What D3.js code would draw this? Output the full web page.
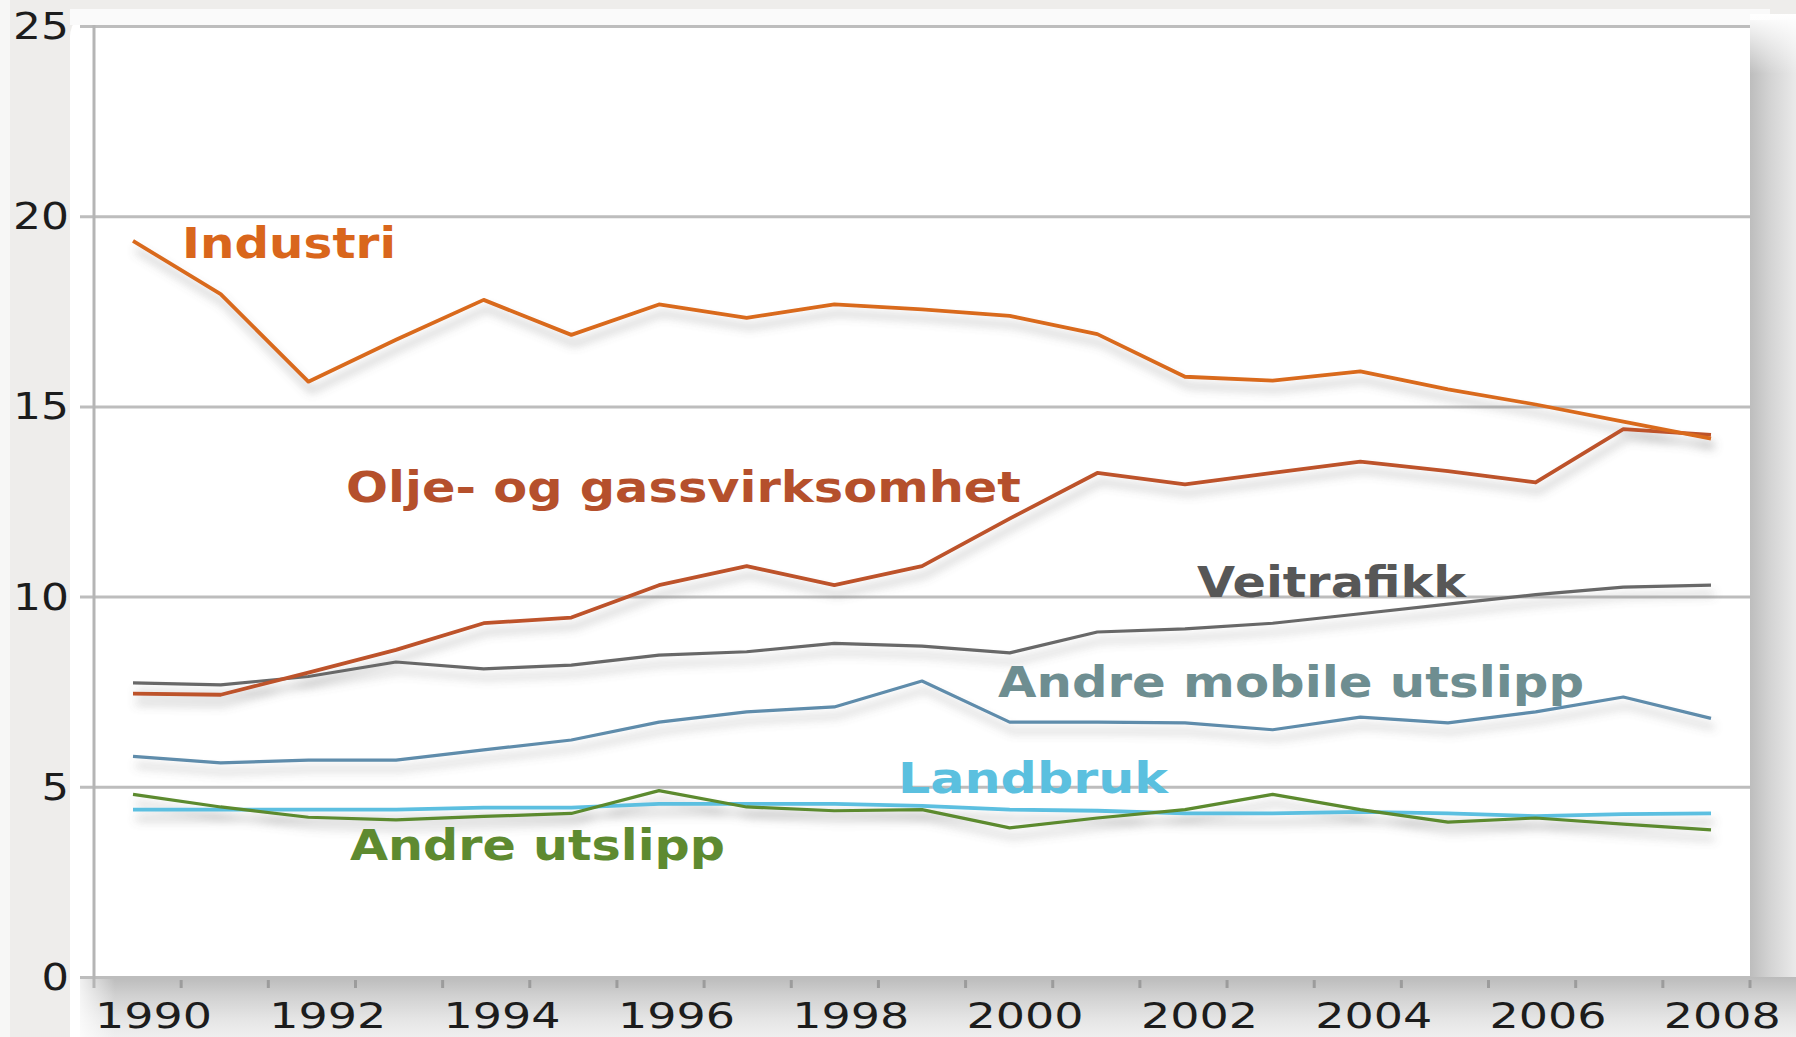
<!DOCTYPE html>
<html>
<head>
<meta charset="utf-8">
<script src="https://cdn.jsdelivr.net/npm/d3@7"></script>
<style>
  html, body { margin: 0; padding: 0; background: #eeedeb; }
  svg { display: block; }
  text { font-family: "DejaVu Sans", Verdana, sans-serif; }
</style>
</head>
<body>
<svg id="chart" width="1796" height="1037"></svg>
<script>
// ---------- data ----------
const years = [1990,1991,1992,1993,1994,1995,1996,1997,1998,1999,2000,2001,2002,2003,2004,2005,2006,2007,2008];
const yearLabels = [1990,1992,1994,1996,1998,2000,2002,2004,2006,2008];
const yTicks = [0,5,10,15,20,25];

const industri      = [19.35,17.95,15.65,16.75,17.8,16.88,17.68,17.33,17.68,17.55,17.38,16.9,15.78,15.68,15.92,15.45,15.05,14.6,14.15];
const oljeGass      = [7.45,7.42,8.0,8.6,9.3,9.45,10.3,10.8,10.3,10.8,12.05,13.25,12.95,13.25,13.55,13.3,13.0,14.4,14.25];
const veitrafikk    = [7.73,7.68,7.9,8.28,8.1,8.2,8.46,8.55,8.77,8.7,8.52,9.07,9.15,9.3,9.55,9.8,10.05,10.25,10.3];
const andreMobile   = [5.8,5.63,5.7,5.7,5.97,6.23,6.7,6.97,7.1,7.78,6.7,6.7,6.68,6.5,6.83,6.68,6.97,7.36,6.8];
const landbruk      = [4.4,4.4,4.4,4.4,4.45,4.45,4.55,4.55,4.55,4.5,4.4,4.37,4.3,4.3,4.34,4.3,4.23,4.28,4.3];
const andreUtslipp  = [4.8,4.47,4.2,4.13,4.22,4.3,4.9,4.47,4.37,4.4,3.92,4.18,4.4,4.8,4.4,4.07,4.18,4.02,3.87];

const seriesNames = ["Landbruk","Andre utslipp","Andre mobile utslipp","Veitrafikk","Olje- og gassvirksomhet","Industri"];
const seriesValues = [landbruk, andreUtslipp, andreMobile, veitrafikk, oljeGass, industri];

// ---------- styles ----------
const styles = {
  "Industri":                {line:"#d96a1e", text:"#d9661c", w:3.8, lx:182, ly:258, len:214},
  "Olje- og gassvirksomhet": {line:"#bd522c", text:"#b5502c", w:3.8, lx:346, ly:502, len:675},
  "Veitrafikk":              {line:"#686868", text:"#575757", w:3.2, lx:1197, ly:597, len:269},
  "Andre mobile utslipp":    {line:"#5e8cab", text:"#6e8e91", w:3.2, lx:998, ly:697, len:586},
  "Landbruk":                {line:"#5bbfe0", text:"#5bc0df", w:3.8, lx:898, ly:793, len:270},
  "Andre utslipp":           {line:"#5b8a2e", text:"#5e8a30", w:3.2, lx:350, ly:860, len:375}
};

const svg = d3.select("#chart");
const W = 1796, H = 1037;
const plot = {x0: 94, x1: 1750, y0: 26, y1: 977};

// ---------- defs ----------
const defs = svg.append("defs");
const gR = defs.append("linearGradient").attr("id","gradR").attr("x1",0).attr("x2",1).attr("y1",0).attr("y2",0);
gR.append("stop").attr("offset",0).attr("stop-color","#bdbdbd");
gR.append("stop").attr("offset",0.45).attr("stop-color","#d4d4d4");
gR.append("stop").attr("offset",1).attr("stop-color","#eaeaea");
const gB = defs.append("linearGradient").attr("id","gradB").attr("x1",0).attr("x2",0).attr("y1",0).attr("y2",1);
gB.append("stop").attr("offset",0).attr("stop-color","#bbbbbb");
gB.append("stop").attr("offset",0.3).attr("stop-color","#d0d0d0");
gB.append("stop").attr("offset",0.7).attr("stop-color","#e5e5e5");
gB.append("stop").attr("offset",1).attr("stop-color","#efefef");
const gTop = defs.append("linearGradient").attr("id","gradTop").attr("x1",0).attr("x2",0).attr("y1",0).attr("y2",1);
gTop.append("stop").attr("offset",0).attr("stop-color","#ffffff").attr("stop-opacity",1);
gTop.append("stop").attr("offset",1).attr("stop-color","#ffffff").attr("stop-opacity",0);
const gLeft = defs.append("linearGradient").attr("id","gradLeft").attr("x1",0).attr("x2",1).attr("y1",0).attr("y2",0);
gLeft.append("stop").attr("offset",0).attr("stop-color","#ffffff").attr("stop-opacity",1);
gLeft.append("stop").attr("offset",1).attr("stop-color","#ffffff").attr("stop-opacity",0);

const f = defs.append("filter").attr("id","shadow").attr("x","-5%").attr("y","-20%").attr("width","110%").attr("height","160%");
f.append("feDropShadow").attr("dx",3).attr("dy",9).attr("stdDeviation",5)
  .attr("flood-color","#6a6a6a").attr("flood-opacity",0.45);

// ---------- background panel ----------
svg.append("rect").attr("width",W).attr("height",H).attr("fill","#eeedeb");
svg.append("rect").attr("x",0).attr("y",0).attr("width",10).attr("height",H).attr("fill","#f7f7f6");
svg.append("rect").attr("x",70).attr("y",9).attr("width",1700).attr("height",1060).attr("rx",28).attr("fill","#ffffff");
svg.append("rect").attr("x",70).attr("y",9).attr("width",1700).attr("height",16).attr("fill","#fafafa");
// right shadow strip
svg.append("rect").attr("x",plot.x1).attr("y",20).attr("width",W-plot.x1).attr("height",H-20).attr("fill","url(#gradR)");
svg.append("rect").attr("x",plot.x1).attr("y",14).attr("width",W-plot.x1).attr("height",60).attr("fill","url(#gradTop)");
// bottom shadow strip
svg.append("rect").attr("x",80).attr("y",plot.y1).attr("width",W-80).attr("height",H-plot.y1).attr("fill","url(#gradB)");
svg.append("rect").attr("x",70).attr("y",plot.y1).attr("width",45).attr("height",H-plot.y1).attr("fill","url(#gradLeft)");
// plot area
svg.append("rect").attr("x",plot.x0).attr("y",plot.y0).attr("width",plot.x1-plot.x0).attr("height",plot.y1-plot.y0).attr("fill","#ffffff");

// ---------- scales ----------
const y = d3.scaleLinear().domain([0,25]).range([plot.y1, plot.y0]);
const xBand = d3.scaleBand().domain(years).range([plot.x0, plot.x1]);
const x = d3.scalePoint().domain(years).range([plot.x0, plot.x1]).padding(0.445);

// gridlines via axis
const grid = svg.append("g").attr("transform",`translate(80,0)`)
  .call(d3.axisRight(y).tickValues(yTicks).tickSize(plot.x1-80).tickFormat(""));
grid.select(".domain").remove();
grid.selectAll(".tick line").attr("stroke","#bdbdbd").attr("stroke-width",3);

// y-axis line
svg.append("line").attr("x1",plot.x0).attr("x2",plot.x0).attr("y1",plot.y0-1).attr("y2",988)
  .attr("stroke","#b5b5b5").attr("stroke-width",3);

// x ticks at band boundaries
const tickYears = years.slice(1);
svg.append("g").selectAll("line").data(tickYears).join("line")
  .attr("x1",d=>xBand(d)).attr("x2",d=>xBand(d)).attr("y1",980).attr("y2",988)
  .attr("stroke","#9c9c9c").attr("stroke-width",3);
svg.append("line").attr("x1",plot.x1).attr("x2",plot.x1).attr("y1",980).attr("y2",988)
  .attr("stroke","#9c9c9c").attr("stroke-width",3);

// y labels
const digitW = 28.5;
svg.append("g").selectAll("text").data(yTicks).join("text")
  .attr("x",d=>70 - digitW*String(d).length)
  .attr("y",d=>y(d)+13)
  .attr("font-size",38)
  .attr("fill","#1c1c1c")
  .attr("textLength",d=>digitW*String(d).length - 1)
  .attr("lengthAdjust","spacingAndGlyphs")
  .text(d=>d);

// x labels
svg.append("g").selectAll("text").data(yearLabels).join("text")
  .attr("x",d=>xBand(d)+1)
  .attr("y",1028)
  .attr("font-size",36)
  .attr("fill","#1c1c1c")
  .attr("textLength",117)
  .attr("lengthAdjust","spacingAndGlyphs")
  .text(d=>d);

// ---------- lines ----------
const line = d3.line().x((d,i)=>x(years[i])).y(d=>y(d)).curve(d3.curveLinear);
const lines = svg.append("g").attr("filter","url(#shadow)");
lines.selectAll("path").data(seriesNames).join("path")
  .attr("d",(d,i)=>line(seriesValues[i]))
  .attr("fill","none")
  .attr("stroke",d=>styles[d].line)
  .attr("stroke-width",d=>styles[d].w)
  .attr("stroke-linejoin","round");

// ---------- series labels ----------
svg.append("g").selectAll("text").data(seriesNames).join("text")
  .attr("x",d=>styles[d].lx)
  .attr("y",d=>styles[d].ly)
  .attr("font-size",42)
  .attr("font-weight","bold")
  .attr("fill",d=>styles[d].text)
  .attr("textLength",d=>styles[d].len)
  .attr("lengthAdjust","spacingAndGlyphs")
  .text(d=>d);
</script>
</body>
</html>
